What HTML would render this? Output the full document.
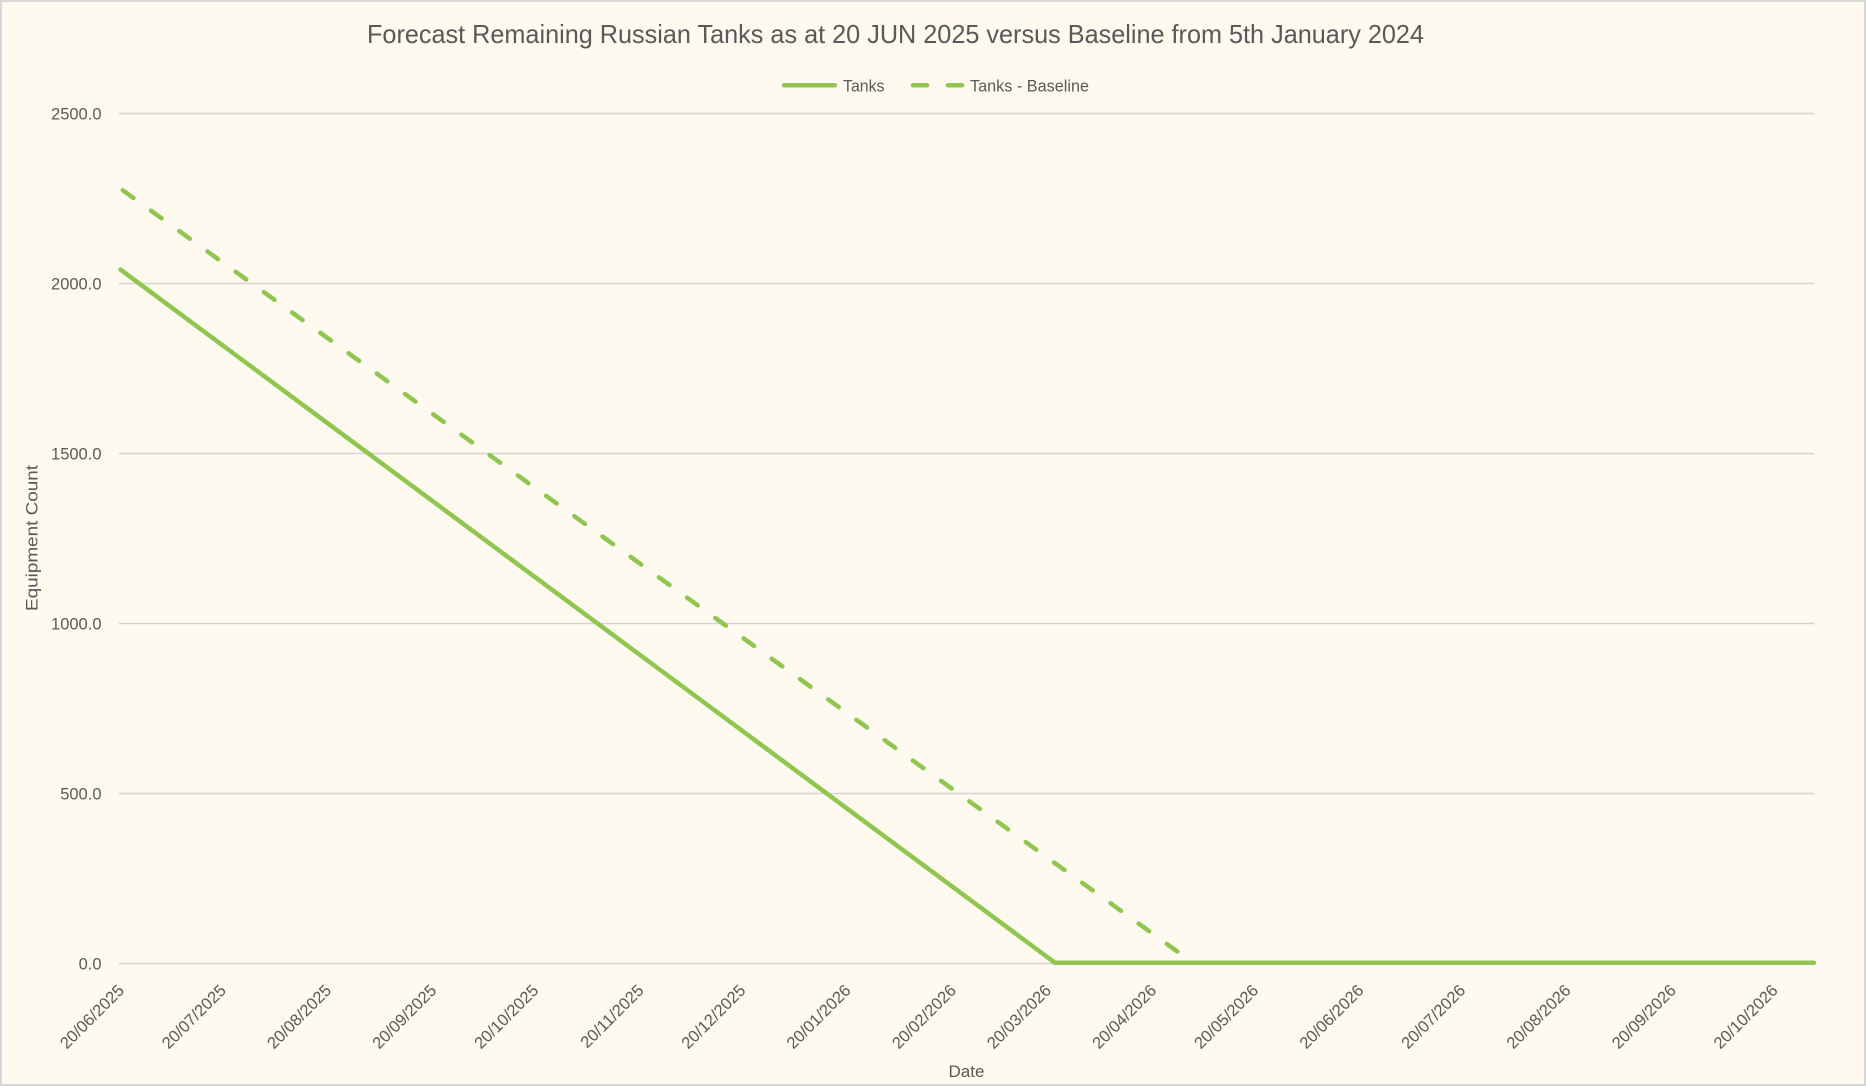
<!DOCTYPE html>
<html>
<head>
<meta charset="utf-8">
<style>
  html, body { margin: 0; padding: 0; background: #fefaef; }
  svg { display: block; }
  text { font-family: "Liberation Sans", sans-serif; fill: #595959; }
</style>
</head>
<body>
<svg width="1866" height="1086" viewBox="0 0 1866 1086" xmlns="http://www.w3.org/2000/svg">
  <rect x="1" y="1" width="1864" height="1084" fill="#fefaef" stroke="#d6d6d6" stroke-width="2"/>

  <!-- Title -->
  <text x="367" y="43" font-size="26" textLength="1057" lengthAdjust="spacingAndGlyphs">Forecast Remaining Russian Tanks as at 20 JUN 2025 versus Baseline from 5th January 2024</text>

  <!-- Legend -->
  <line x1="784" y1="85.3" x2="835" y2="85.3" stroke="#90c650" stroke-width="4.5" stroke-linecap="round"/>
  <text x="843" y="91.5" font-size="16.5" textLength="41.5" lengthAdjust="spacingAndGlyphs">Tanks</text>
  <line x1="913" y1="85.3" x2="927" y2="85.3" stroke="#90c650" stroke-width="4.5" stroke-linecap="round"/>
  <line x1="948" y1="85.3" x2="962" y2="85.3" stroke="#90c650" stroke-width="4.5" stroke-linecap="round"/>
  <text x="970" y="91.5" font-size="16.5" textLength="119" lengthAdjust="spacingAndGlyphs">Tanks - Baseline</text>

  <!-- Gridlines -->
  <g stroke="#d4d4d4" stroke-width="1.6">
    <line x1="119" y1="113.5" x2="1814" y2="113.5"/>
    <line x1="119" y1="283.5" x2="1814" y2="283.5"/>
    <line x1="119" y1="453.5" x2="1814" y2="453.5"/>
    <line x1="119" y1="623.5" x2="1814" y2="623.5"/>
    <line x1="119" y1="793.5" x2="1814" y2="793.5"/>
    <line x1="119" y1="963.5" x2="1814" y2="963.5"/>
  </g>

  <!-- Y tick labels -->
  <g font-size="16.5" text-anchor="end">
    <text x="101.5" y="119.5">2500.0</text>
    <text x="101.5" y="289.5">2000.0</text>
    <text x="101.5" y="459.5">1500.0</text>
    <text x="101.5" y="629.5">1000.0</text>
    <text x="101.5" y="799.5">500.0</text>
    <text x="101.5" y="969.5">0.0</text>
  </g>

  <!-- Y axis title -->
  <text transform="translate(37.5,538) rotate(-90)" text-anchor="middle" font-size="17" textLength="146" lengthAdjust="spacingAndGlyphs">Equipment Count</text>

  <!-- X axis title -->
  <text x="966.5" y="1077" text-anchor="middle" font-size="17">Date</text>

  <!-- X tick labels -->
  <g font-size="16.5" text-anchor="end">
    <text transform="translate(125.1,991.4) rotate(-45)">20/06/2025</text>
    <text transform="translate(227.0,991.4) rotate(-45)">20/07/2025</text>
    <text transform="translate(332.3,991.4) rotate(-45)">20/08/2025</text>
    <text transform="translate(437.5,991.4) rotate(-45)">20/09/2025</text>
    <text transform="translate(539.4,991.4) rotate(-45)">20/10/2025</text>
    <text transform="translate(644.7,991.4) rotate(-45)">20/11/2025</text>
    <text transform="translate(746.5,991.4) rotate(-45)">20/12/2025</text>
    <text transform="translate(851.8,991.4) rotate(-45)">20/01/2026</text>
    <text transform="translate(957.1,991.4) rotate(-45)">20/02/2026</text>
    <text transform="translate(1052.1,991.4) rotate(-45)">20/03/2026</text>
    <text transform="translate(1157.4,991.4) rotate(-45)">20/04/2026</text>
    <text transform="translate(1259.3,991.4) rotate(-45)">20/05/2026</text>
    <text transform="translate(1364.6,991.4) rotate(-45)">20/06/2026</text>
    <text transform="translate(1466.4,991.4) rotate(-45)">20/07/2026</text>
    <text transform="translate(1571.7,991.4) rotate(-45)">20/08/2026</text>
    <text transform="translate(1677.0,991.4) rotate(-45)">20/09/2026</text>
    <text transform="translate(1778.8,991.4) rotate(-45)">20/10/2026</text>
  </g>

  <!-- Series: Tanks (solid) -->
  <polyline points="120.5,269.6 1055,962.8 1814,962.8" fill="none" stroke="#90c650" stroke-width="4.5" stroke-linecap="round" stroke-linejoin="round"/>

  <!-- Series: Tanks - Baseline (dashed) -->
  <polyline points="119.5,187.9 1193,962.8 1814,962.8" fill="none" stroke="#90c650" stroke-width="4.5" stroke-linecap="round" stroke-linejoin="round" stroke-dasharray="13 21.8" stroke-dashoffset="30.7"/>
</svg>
</body>
</html>
